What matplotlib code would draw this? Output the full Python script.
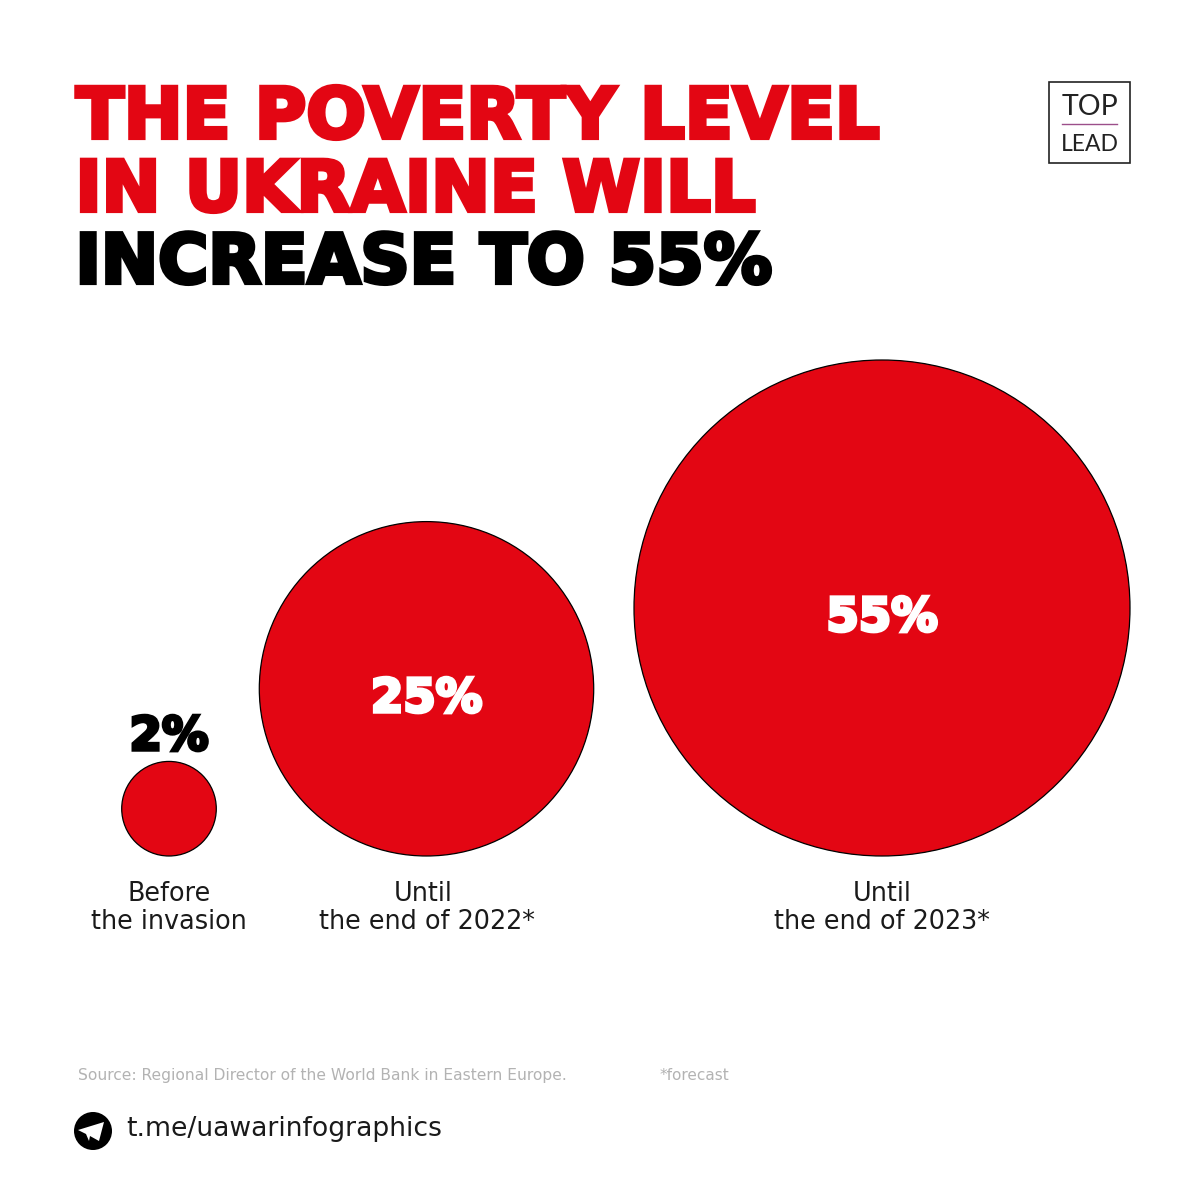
import matplotlib
matplotlib.use("Agg")
import matplotlib.pyplot as plt
import matplotlib.patheffects as pe
from matplotlib.patches import Circle, Polygon, Rectangle
import numpy as np

title_red = ["THE POVERTY LEVEL", "IN UKRAINE WILL"]
title_black = "INCREASE TO 55%"
periods = ["Before\nthe invasion", "Until\nthe end of 2022*", "Until\nthe end of 2023*"]
poverty = [2, 25, 55]
source = "Source: Regional Director of the World Bank in Eastern Europe."
note = "*forecast"
link = "t.me/uawarinfographics"

RED = "#e30613"
centers = [169, 426.5, 882]
first_line_x = [169, 423.5, 882]
baseline = 856
scale = 248 / np.sqrt(55)  # area goes with the value

fig = plt.figure(figsize=(11.99, 12), dpi=100, facecolor="white")
ax = fig.add_axes([0, 0, 1, 1])
ax.set_xlim(0, 1199)
ax.set_ylim(1200, 0)
ax.axis("off")


def bold_text(x, y, s, size, color, ha="left", stroke=3):
    ax.text(x, y, s, fontsize=size, color=color, ha=ha, va="baseline",
            family="DejaVu Sans", weight="bold",
            path_effects=[pe.withStroke(linewidth=stroke, foreground=color, joinstyle="miter")])


bold_text(76, 138, title_red[0], 50.5, RED)
bold_text(75.5, 211, title_red[1], 50.6, RED)
bold_text(75.5, 283, title_black, 49.2, "black")

for x, x1, v, lab in zip(centers, first_line_x, poverty, periods):
    r = scale * np.sqrt(v)
    ax.add_patch(Circle((x, baseline - r), r, facecolor=RED, edgecolor="black", lw=0.9))
    l1, l2 = lab.split("\n")
    ax.text(x1, 901, l1, fontsize=18.4, ha="center", va="baseline", color="#1a1a1a", family="DejaVu Sans")
    ax.text(x, 929, l2, fontsize=18.4, ha="center", va="baseline", color="#1a1a1a", family="DejaVu Sans")

bold_text(169, 750, f"{poverty[0]}%", 33.5, "black", ha="center", stroke=2.5)
bold_text(426.5, 712, f"{poverty[1]}%", 33.5, "white", ha="center", stroke=2.5)
bold_text(882, 631, f"{poverty[2]}%", 33.5, "white", ha="center", stroke=2.5)

# logo
ax.add_patch(Rectangle((1049, 82), 81, 81, fill=False, edgecolor="#222222", lw=1.2))
ax.text(1090, 115, "TOP", fontsize=20.5, ha="center", va="baseline", color="#222222", family="Lato")
ax.plot([1062, 1117], [124, 124], color="#9c4f8a", lw=1)
ax.text(1090, 151, "LEAD", fontsize=16.5, ha="center", va="baseline", color="#222222", family="Lato")

# footer
ax.text(78, 1080, source, fontsize=11.2, color="#b3b3b3", va="baseline", family="DejaVu Sans")
ax.text(660, 1080, note, fontsize=11, color="#b3b3b3", va="baseline", family="DejaVu Sans")
ax.add_patch(Circle((93, 1131), 19, facecolor="black", edgecolor="none"))
ax.add_patch(Polygon([[78, 1130], [104, 1122], [99, 1141], [90, 1136], [89, 1141], [86, 1134]],
                     facecolor="white", edgecolor="none"))
ax.text(126, 1136, link, fontsize=19.15, color="#1a1a1a", va="baseline", family="DejaVu Sans")

fig.savefig("out.png", dpi=100, facecolor="white")
